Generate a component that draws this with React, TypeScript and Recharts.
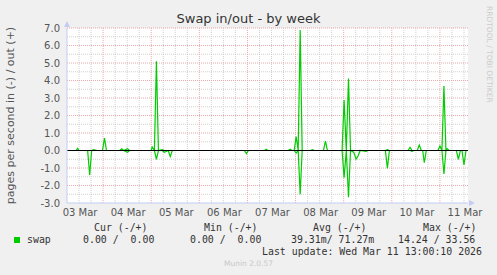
import React from "react";
import {
  LineChart,
  Line,
  XAxis,
  YAxis,
  CartesianGrid,
  ReferenceLine,
  ReferenceDot,
} from "recharts";

// hours relative to midnight 04 Mar (first red day line)
const times = [
  -18, -13.5, -12.7, -12, -7.7, -6.7, -5.7, -4.7, -3, -0.3, 0.7, 1.7, 8.3, 9.3,
  10.3, 12.2, 13.2, 24, 24.5, 25.6, 26.6, 27.6, 29.5, 30.5, 32.5, 33.5, 34.5,
  70.5, 71.5, 72.5, 80.5, 81.3, 82.3, 92.3, 93.3, 94.3, 95.3, 96.3, 97.3, 98.3,
  99.3, 103.4, 104.4, 105.4, 109.9, 110.9, 111.9, 119.2, 120.2, 121.3, 122.4,
  123.4, 125, 126.2, 127.2, 128.2, 131.2, 132.2, 140.8, 141.8, 142.8, 152.1,
  153.1, 154.1, 155, 156.7, 157.7, 158.7, 159.4, 160.2, 161.2, 167, 168, 169,
  170, 171, 171.6, 172.6, 176.2, 177.2, 178.2, 179, 180, 181,
];
const outValues = [
  0, 0, 0.12, 0, 0, 0, 0, 0.05, 0, 0, 0.71, 0, 0, 0.1, 0, 0.1, 0, 0, 0.2, 0,
  5.1, 0, 0.05, 0, 0, 0, 0, 0, 0, 0, 0, 0.07, 0, 0, 0.07, 0, 0, 0.79, 0, 6.89,
  0, 0, 0.05, 0, 0, 0.54, 0, 0, 2.89, 0, 4.12, 0, 0, 0, 0, 0, 0, 0, 0, 0.05, 0,
  0, 0.18, 0, 0, 0, 0.31, 0, 0, 0, 0, 0, 0.26, 0, 3.69, 0, 0.1, 0, 0, 0, 0, 0,
  0, 0,
];
const inValues = [
  0, 0, 0, 0, 0, 1.4, 0, 0, 0, 0, 0, 0, 0, 0, 0, 0.1, 0, 0, 0, 0, 0.5, 0, 0,
  0.1, 0, 0.35, 0, 0, 0.18, 0, 0, 0, 0, 0, 0, 0, 0, 0.15, 0, 2.5, 0, 0, 0, 0, 0,
  0, 0, 0, 1.55, 0, 2.67, 0, 0.1, 0.49, 0.3, 0, 0.05, 0, 0, 1.02, 0, 0, 0, 0.05,
  0, 0, 0, 0, 0, 0.7, 0, 0, 0, 0, 1.34, 0, 0, 0, 0, 0.5, 0, 0, 0.83, 0,
];

const dayLabels = ["03 Mar", "04 Mar", "05 Mar", "06 Mar", "07 Mar", "08 Mar", "09 Mar", "10 Mar", "11 Mar"];
const dayLabelTicks = [-11.5, 12.5, 36.5, 60.5, 84.5, 108.5, 132.5, 156.5, 180.5];
const dayLines = [0, 24, 48, 72, 96, 120, 144, 168];
const sixHourLines = [
  -12, -6, 6, 12, 18, 30, 36, 42, 54, 60, 66, 78, 84, 90, 102, 108, 114, 126,
  132, 138, 150, 156, 162, 174, 180,
];
const yTicks = [-3, -2, -1, 0, 1, 2, 3, 4, 5, 6, 7];
const yMajorLines = [-2, -1, 1, 2, 3, 4, 5, 6, 7];
const yMinorLines = [-2.5, -1.5, -0.5, 0.5, 1.5, 2.5, 3.5, 4.5, 5.5, 6.5];

const legendHeaders = ["Cur (-/+)", "Min (-/+)", "Avg (-/+)", "Max (-/+)"];
const legendValues = ["0.00 /  0.00", "0.00 /  0.00", "39.31m/ 71.27m", "14.24 / 33.56"];
const lastUpdate = "Last update: Wed Mar 11 13:00:10 2026";

const data = times.map((t, i) => ({ t, out: outValues[i], in: -inValues[i] }));

const AXIS = "#c4ccf4";
const MONO = "'DejaVu Sans Mono', monospace";
const SANS = "'DejaVu Sans', sans-serif";

const headerX = [94, 204, 313, 423];
const valueX = [83, 190, 291, 398];

export default function App() {
  return (
    <div
      style={{
        position: "fixed",
        left: 0,
        top: 0,
        width: 497,
        height: 275,
        background: "#f0f0f0",
        fontFamily: SANS,
      }}
    >
      <LineChart
        width={497}
        height={275}
        data={data}
        margin={{ top: 28, right: 29, left: 0, bottom: 42 }}
      >
        <CartesianGrid fill="#ffffff" stroke="none" horizontal={false} vertical={false} />
        {yMinorLines.map((v) => (
          <ReferenceLine key={"ym" + v} y={v} stroke="#d0d0d0" strokeDasharray="1 1" />
        ))}
        {sixHourLines.map((v) => (
          <ReferenceLine key={"xm" + v} x={v} stroke="#d0d0d0" strokeDasharray="1 1" />
        ))}
        {yMajorLines.map((v) => (
          <ReferenceLine key={"yM" + v} y={v} stroke="#e8aaaa" strokeDasharray="1 1" />
        ))}
        {dayLines.map((v) => (
          <ReferenceLine key={"xM" + v} x={v} stroke="#e8aaaa" strokeDasharray="1 1" />
        ))}
        <XAxis
          dataKey="t"
          type="number"
          domain={[-18, 182]}
          ticks={dayLabelTicks}
          tickFormatter={(v) => dayLabels[dayLabelTicks.indexOf(v)] ?? ""}
          tick={{ fontSize: 10, fill: "#555", fontFamily: SANS }}
          tickLine={false}
          tickSize={4}
          height={30}
          stroke={AXIS}
          interval={0}
          allowDataOverflow
        />
        <YAxis
          type="number"
          domain={[-3, 7]}
          ticks={yTicks}
          tickFormatter={(v) => v.toFixed(1)}
          tick={{ fontSize: 10, fill: "#555", fontFamily: SANS }}
          tickLine={false}
          tickSize={5}
          stroke={AXIS}
          width={67}
          interval={0}
          allowDataOverflow
          label={{
            value: "pages per second in (-) / out (+)",
            angle: -90,
            position: "insideLeft",
            offset: 0,
            dx: 10,
            style: { fontSize: 11, fill: "#555", fontFamily: SANS, textAnchor: "middle" },
          }}
        />
        <Line
          dataKey="out"
          stroke="#00cc00"
          strokeWidth={1.2}
          dot={false}
          isAnimationActive={false}
          type="linear"
        />
        <Line
          dataKey="in"
          stroke="#00cc00"
          strokeWidth={1.2}
          dot={false}
          isAnimationActive={false}
          type="linear"
        />
        <ReferenceLine y={0} stroke="#000" strokeWidth={1} />
        <ReferenceDot
          x={-18}
          y={7}
          ifOverflow="visible"
          shape={(p: any) => (
            <polygon
              points={`${p.cx - 3},${p.cy - 1} ${p.cx + 3},${p.cy - 1} ${p.cx},${p.cy - 7}`}
              fill={AXIS}
            />
          )}
        />
        <ReferenceDot
          x={182}
          y={-3}
          ifOverflow="visible"
          shape={(p: any) => (
            <polygon
              points={`${p.cx + 1},${p.cy - 3} ${p.cx + 1},${p.cy + 3} ${p.cx + 7},${p.cy}`}
              fill={AXIS}
            />
          )}
        />
      </LineChart>

      <div
        style={{
          position: "absolute",
          top: 11,
          left: 0,
          width: 497,
          textAlign: "center",
          fontSize: 13,
          color: "#333",
        }}
      >
        Swap in/out - by week
      </div>
      <div
        style={{
          position: "absolute",
          left: 485,
          top: 6,
          transformOrigin: "0 0",
          transform: "rotate(90deg) translateY(-9px)",
          fontSize: 7.5,
          color: "#cccccc",
          whiteSpace: "nowrap",
        }}
      >
        RRDTOOL / TOBI OETIKER
      </div>

      {legendHeaders.map((h, i) => (
        <div
          key={h}
          style={{ position: "absolute", left: headerX[i], top: 222, fontFamily: MONO, fontSize: 9.9, color: "#333", whiteSpace: "pre" }}
        >
          {h}
        </div>
      ))}
      <div style={{ position: "absolute", left: 14, top: 237, width: 6, height: 6, background: "#00cc00" }} />
      <div style={{ position: "absolute", left: 27, top: 234, fontFamily: MONO, fontSize: 9.9, color: "#333" }}>
        swap
      </div>
      {legendValues.map((v, i) => (
        <div
          key={i}
          style={{ position: "absolute", left: valueX[i], top: 234, fontFamily: MONO, fontSize: 9.9, color: "#333", whiteSpace: "pre" }}
        >
          {v}
        </div>
      ))}
      <div
        style={{ position: "absolute", left: 262, top: 246, fontFamily: MONO, fontSize: 9.9, color: "#333", whiteSpace: "pre" }}
      >
        {lastUpdate}
      </div>
      <div
        style={{ position: "absolute", left: 0, width: 497, top: 259, textAlign: "center", fontSize: 7.5, color: "#c8c8c8" }}
      >
        Munin 2.0.57
      </div>
    </div>
  );
}
